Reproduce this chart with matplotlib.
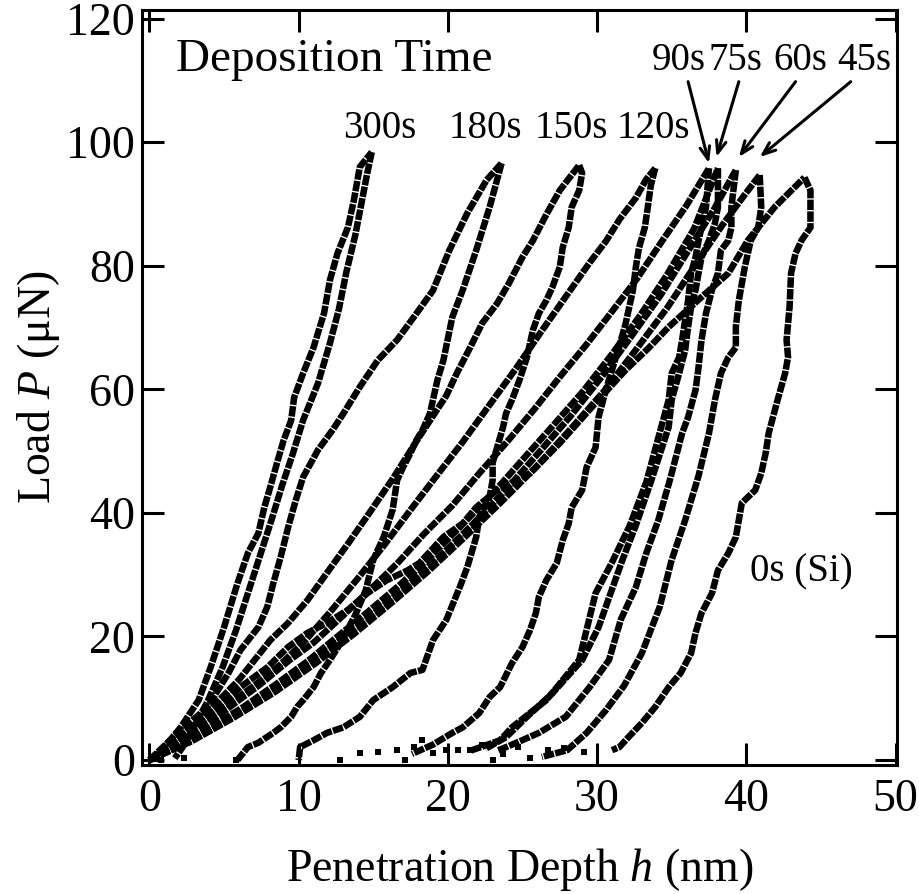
import matplotlib
matplotlib.use('Agg')
import matplotlib.pyplot as plt

plt.rcParams['font.family'] = ['Liberation Serif', 'DejaVu Serif']
plt.rcParams['mathtext.fontset'] = 'custom'
plt.rcParams['mathtext.rm'] = 'Liberation Serif'
plt.rcParams['mathtext.it'] = 'Liberation Serif:italic'

# ---------------- data (h in nm, P in uN) ----------------
h_300_load = [0.1, 1.0, 2.1, 3.3, 4.1, 5.0, 5.9, 6.6, 7.3, 7.7, 8.1, 8.6, 9.0, 9.5, 9.7, 10.3, 11.0, 11.7, 12.1, 12.6, 13.3, 13.7, 14.1, 14.9]
p_300_load = [0.0, 2.1, 5.3, 9.7, 15.0, 21.5, 28.6, 33.5, 36.7, 40.9, 44.2, 48.5, 51.8, 55.0, 58.7, 62.6, 66.8, 72.3, 77.7, 82.0, 86.2, 90.6, 96.0, 98.4]
h_300_unload = [14.9, 14.6, 14.2, 13.8, 13.2, 12.7, 12.1, 11.3, 10.3, 9.6, 8.9, 8.2, 7.4, 6.6, 5.8, 4.9, 3.9, 2.9, 2.2, 1.7]
p_300_unload = [98.4, 95.0, 90.0, 85.0, 79.0, 73.0, 67.5, 61.0, 55.0, 49.5, 44.5, 39.0, 33.0, 27.0, 21.0, 15.0, 9.5, 5.0, 2.0, 0.3]

h_180_load = [0.0, 1.3, 2.7, 3.9, 5.3, 6.1, 7.3, 7.9, 8.3, 8.8, 9.3, 9.8, 10.3, 11.3, 12.3, 13.0, 14.1, 15.3, 16.6, 17.9, 19.0, 20.1, 21.3, 22.6, 23.6]
p_180_load = [0.0, 3.0, 6.0, 8.6, 14.1, 17.8, 21.5, 24.8, 28.6, 32.9, 37.7, 42.0, 45.8, 50.2, 53.5, 56.1, 60.4, 64.7, 68.0, 72.3, 76.0, 82.5, 88.5, 93.9, 96.6]
h_180_unload = [23.6, 22.8, 21.9, 21.0, 20.3, 19.7, 19.3, 18.8, 18.3, 17.9, 17.5, 17.0, 16.6, 16.3, 15.7, 15.0, 14.5, 13.8, 12.8, 12.1, 11.5, 11.0, 10.3, 9.9, 9.5, 8.8, 8.3, 7.3, 6.6, 5.9]
p_180_unload = [96.6, 89.5, 82.5, 76.1, 71.7, 64.7, 61.5, 56.1, 53.4, 51.8, 49.7, 47.4, 45.3, 40.5, 36.1, 32.4, 27.5, 23.5, 18.9, 16.2, 14.1, 11.8, 9.7, 8.6, 7.0, 5.3, 4.4, 2.8, 2.1, 0.0]

h_150_load = [0.0, 2.0, 4.0, 6.0, 8.1, 9.3, 10.6, 11.9, 13.3, 14.6, 16.3, 18.0, 19.9, 20.6, 21.5, 22.3, 23.3, 24.1, 25.0, 25.7, 26.6, 27.5, 28.8]
p_150_load = [0.0, 3.5, 8.0, 13.0, 19.4, 22.2, 25.9, 30.3, 35.0, 39.5, 45.5, 52.0, 59.0, 62.6, 66.8, 70.7, 73.9, 77.2, 81.4, 84.1, 88.3, 92.2, 96.3]
h_150_unload = [28.8, 29.0, 28.8, 28.3, 28.1, 27.7, 27.5, 27.0, 26.6, 26.1, 25.7, 25.3, 24.8, 24.3, 23.9, 23.7, 23.3, 23.0, 23.0, 22.8, 22.1, 21.9, 21.3, 20.8, 19.9, 19.0, 18.3, 17.5, 16.3, 15.0, 14.1, 13.0, 11.9, 11.0, 10.1, 10.0]
p_150_unload = [96.3, 95.0, 92.2, 89.5, 86.2, 83.0, 79.8, 76.5, 74.4, 72.3, 69.6, 65.2, 61.5, 58.3, 56.1, 53.9, 50.6, 48.1, 45.3, 42.6, 39.3, 36.1, 31.2, 28.0, 22.7, 19.4, 14.6, 14.1, 11.8, 9.7, 7.0, 5.3, 4.4, 3.2, 2.1, 0.0]

h_120_load = [0.0, 1.5, 3.2, 5.0, 7.0, 8.8, 10.5, 12.3, 14.0, 15.8, 17.5, 19.4, 21.0, 22.8, 24.6, 26.3, 27.9, 29.5, 30.6, 31.5, 32.6, 33.3, 33.9]
p_120_load = [0.0, 2.5, 5.5, 8.5, 12.0, 15.5, 19.5, 24.5, 29.5, 35.0, 40.5, 46.5, 51.5, 57.5, 63.5, 69.5, 75.0, 80.5, 84.0, 87.5, 91.0, 94.0, 95.8]
h_120_unload = [33.9, 33.6, 33.4, 33.2, 32.8, 32.6, 32.4, 31.9, 31.3, 30.6, 30.1, 29.9, 29.3, 29.0, 28.3, 28.1, 27.7, 27.3, 26.6, 26.1, 25.9, 25.5, 25.0, 24.3, 23.5, 22.8, 22.1, 21.0, 20.3, 19.0, 17.6]
p_120_unload = [95.8, 93.0, 89.5, 86.2, 82.8, 79.8, 76.0, 70.5, 65.5, 60.0, 55.5, 50.6, 47.4, 43.7, 40.9, 38.3, 35.6, 31.9, 29.1, 26.4, 23.8, 21.0, 18.3, 15.7, 11.8, 10.2, 7.6, 5.3, 4.4, 2.5, 1.0]

h_90_load = [0.0, 1.8, 3.6, 5.5, 7.4, 9.3, 11.0, 12.9, 14.8, 16.6, 18.4, 20.3, 22.1, 24.0, 25.8, 27.5, 29.3, 31.0, 32.7, 34.3, 36.0, 37.5]
p_90_load = [0.0, 2.4, 5.3, 8.8, 12.2, 16.0, 19.0, 23.2, 27.6, 31.8, 36.6, 41.2, 46.4, 51.6, 56.8, 62.0, 67.3, 72.6, 78.0, 83.8, 89.8, 95.8]
h_90_unload = [37.5, 37.3, 37.0, 36.8, 36.6, 36.3, 36.1, 35.9, 35.7, 35.5, 35.0, 34.8, 34.3, 33.3, 32.2, 31.0, 29.9, 28.8, 26.6, 24.3, 23.5, 21.5]
p_90_unload = [95.8, 89.5, 86.2, 84.1, 81.4, 78.8, 74.4, 71.2, 68.0, 65.2, 62.6, 58.3, 53.9, 45.0, 38.0, 32.0, 27.0, 16.2, 9.7, 5.3, 3.2, 1.5]

h_75_load = [0.0, 2.2, 4.3, 6.3, 8.5, 10.6, 12.5, 14.6, 16.8, 18.9, 21.0, 23.1, 25.0, 27.0, 29.1, 31.0, 32.9, 34.7, 36.5, 38.1]
p_75_load = [0.0, 2.6, 5.6, 8.6, 12.3, 16.0, 19.8, 23.9, 28.4, 33.1, 38.2, 43.4, 48.6, 54.0, 59.8, 65.7, 72.0, 78.6, 86.0, 95.8]
h_75_unload = [38.1, 38.1, 37.9, 37.5, 37.0, 36.8, 36.6, 36.3, 36.1, 35.9, 35.5, 35.0, 34.8, 33.6, 32.6, 31.7, 30.1, 29.0, 27.0, 25.3, 23.9, 22.5]
p_75_unload = [95.8, 89.5, 86.9, 84.1, 81.4, 78.8, 76.1, 73.3, 70.1, 66.3, 62.6, 58.3, 53.9, 45.0, 38.0, 32.4, 21.5, 16.2, 10.8, 7.0, 3.7, 1.8]

h_60_load = [0.0, 2.5, 5.0, 7.5, 9.8, 12.2, 14.6, 17.0, 19.3, 21.6, 23.8, 26.0, 28.2, 30.3, 32.3, 34.3, 36.1, 37.8, 39.3]
p_60_load = [0.0, 2.8, 6.1, 10.0, 14.0, 18.3, 22.8, 27.6, 32.6, 38.0, 43.5, 49.5, 55.6, 62.0, 68.6, 75.4, 82.4, 89.0, 95.5]
h_60_unload = [39.3, 39.0, 39.0, 38.8, 38.3, 38.1, 37.7, 37.3, 37.0, 36.8, 36.6, 36.1, 35.7, 34.9, 34.1, 33.3, 32.6, 31.6, 30.8, 29.5, 27.9, 26.1, 24.6, 23.3]
p_60_unload = [95.5, 89.5, 86.2, 84.1, 82.5, 78.8, 76.1, 72.3, 68.0, 63.6, 59.9, 55.5, 52.9, 45.5, 38.8, 33.5, 28.0, 22.8, 16.2, 11.8, 7.0, 4.4, 2.8, 1.5]

h_45_load = [0.0, 2.8, 5.6, 8.4, 11.1, 13.7, 16.2, 18.7, 21.1, 23.5, 25.9, 28.2, 30.5, 32.6, 34.7, 36.6, 38.4, 39.8, 40.9]
p_45_load = [0.0, 3.0, 6.8, 11.0, 15.6, 20.4, 25.4, 30.6, 36.0, 41.6, 47.4, 53.5, 59.8, 66.4, 73.2, 80.2, 86.6, 91.2, 94.7]
h_45_unload = [40.9, 41.0, 40.8, 40.3, 39.9, 39.5, 39.3, 39.3, 38.8, 38.3, 37.9, 37.5, 36.8, 35.9, 35.0, 34.2, 33.0, 31.8, 30.6, 29.3, 28.0, 26.3]
p_45_unload = [94.7, 89.5, 86.2, 84.1, 79.8, 74.4, 70.1, 66.8, 65.2, 62.6, 58.3, 52.9, 46.0, 38.8, 32.4, 24.8, 17.3, 12.0, 8.1, 4.4, 1.6, 0.5]

h_si_load = [0.0, 2.0, 4.6, 6.1, 7.9, 9.3, 10.6, 11.9, 13.3, 14.6, 15.9, 17.3, 18.1, 19.7, 21.0, 21.9, 23.3, 25.5, 27.5, 29.9, 31.9, 33.5, 34.8, 36.8, 38.8, 40.1, 41.9, 43.9]
p_si_load = [0.0, 3.5, 8.6, 11.8, 15.0, 18.3, 20.6, 22.2, 24.3, 27.0, 29.1, 30.7, 31.9, 36.1, 38.3, 40.9, 43.7, 46.4, 51.3, 57.8, 63.1, 66.8, 70.1, 74.5, 78.8, 84.1, 89.5, 94.3]
h_si_unload = [43.9, 44.3, 44.3, 43.7, 43.3, 43.0, 42.9, 42.7, 42.8, 42.6, 42.1, 41.5, 41.3, 41.0, 40.6, 39.7, 39.3, 38.8, 38.1, 37.7, 37.0, 36.6, 36.3, 35.6, 34.8, 33.9, 33.0, 32.1, 31.5, 31.0]
p_si_unload = [94.3, 92.2, 86.2, 84.1, 82.0, 78.8, 73.3, 68.0, 65.2, 62.6, 58.3, 52.9, 49.7, 46.4, 43.7, 41.6, 36.1, 33.5, 30.7, 27.0, 23.8, 20.6, 17.3, 14.1, 11.8, 8.6, 6.0, 3.7, 2.1, 1.6]

# scattered low-load points near the surface
noise_h = [12.8, 14.1, 15.3, 16.6, 17.1, 17.7, 18.3, 19.0, 19.9, 20.7, 21.5, 22.3, 23.0, 23.7, 24.7, 25.5, 26.7, 27.8, 29.1, 5.8, 2.3, 0.8]
noise_p = [0.0, 1.1, 1.3, 1.6, 0.0, 2.1, 3.2, 1.1, 1.6, 1.6, 1.6, 2.4, 0.0, 1.0, 2.1, 0.3, 1.6, 2.0, 1.3, 0.0, 0.3, 0.0]

series = [
    (h_300_load, p_300_load), (h_300_unload, p_300_unload),
    (h_180_load, p_180_load), (h_180_unload, p_180_unload),
    (h_150_load, p_150_load), (h_150_unload, p_150_unload),
    (h_120_load, p_120_load), (h_120_unload, p_120_unload),
    (h_90_load, p_90_load), (h_90_unload, p_90_unload),
    (h_75_load, p_75_load), (h_75_unload, p_75_unload),
    (h_60_load, p_60_load), (h_60_unload, p_60_unload),
    (h_45_load, p_45_load), (h_45_unload, p_45_unload),
    (h_si_load, p_si_load), (h_si_unload, p_si_unload),
]

# labels
top_labels = ['300s', '180s', '150s', '120s']
top_label_h = [15.4, 22.5, 28.3, 33.8]
arrow_labels = ['90s', '75s', '60s', '45s']
arrow_label_h = [35.5, 39.3, 43.6, 47.9]
arrow_tail_h = [36.1, 39.5, 43.3, 47.0]
arrow_tip_h = [37.5, 38.0, 39.5, 40.9]
arrow_tip_p = [96.6, 97.6, 97.6, 97.6]

# ---------------- figure ----------------
fig = plt.figure(figsize=(9.2, 8.94), dpi=100)
ax = fig.add_axes([0.1543, 0.1443, 0.8207, 0.8445])

for h, p in series:
    ax.plot(h, p, color='black', lw=4.7, dashes=(1.6, 0.2),
            dash_capstyle='butt', solid_capstyle='butt')
ax.plot(noise_h, noise_p, 's', color='black', ms=5, mew=0)

ax.set_xlim(-0.5, 50.1)
ax.set_ylim(-0.8, 121.4)
ax.set_xticks([0, 10, 20, 30, 40, 50])
ax.set_yticks([0, 20, 40, 60, 80, 100, 120])
ax.tick_params(direction='in', length=16, width=2.2, top=True, right=True,
               labelsize=33)
ax.tick_params(axis='x', pad=10)
ax.tick_params(axis='y', pad=5)
for s in ax.spines.values():
    s.set_linewidth(2.2)

ax.set_xlabel('Penetration Depth $h$ (nm)', fontsize=33, labelpad=18)
ax.set_ylabel('Load $P$ (\u03bcN)', fontsize=33, labelpad=3)

ax.text(1.8, 113.3, 'Deposition Time', fontsize=34, ha='left', va='center')
for lab, x in zip(top_labels, top_label_h):
    ax.text(x, 102.3, lab, fontsize=28, ha='center', va='center')
for lab, x in zip(arrow_labels, arrow_label_h):
    ax.text(x, 113.3, lab, fontsize=28, ha='center', va='center')
for x0, x1, y1 in zip(arrow_tail_h, arrow_tip_h, arrow_tip_p):
    ax.annotate('', xy=(x1, y1), xytext=(x0, 109.8),
                arrowprops=dict(arrowstyle='->,head_length=0.9,head_width=0.35',
                                lw=2.2, color='black', shrinkA=0, shrinkB=0))
ax.text(43.7, 30.4, '0s (Si)', fontsize=28, ha='center', va='center')

fig.savefig('out.png', dpi=100)
